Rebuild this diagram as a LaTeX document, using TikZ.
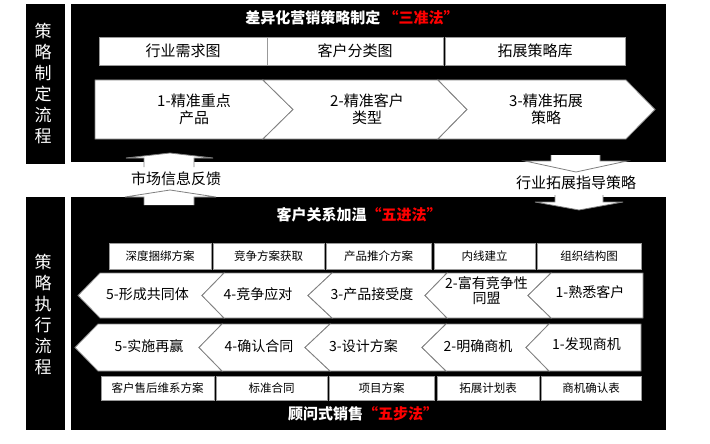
\documentclass[tikz,border=0pt]{standalone}
\usepackage{fontspec}
\setmainfont{Noto Sans CJK SC}
\begin{document}
\begin{tikzpicture}[x=1pt,y=-1pt,
  panel/.style={fill=black},
  cell/.style={draw=gray!80,fill=white,line width=.8pt,inner sep=0pt},
  chev/.style={draw=gray,fill=white,line width=.8pt},
  blockarrow/.style={draw=gray,fill=white,line width=.8pt},
  sidetext/.style={white,inner sep=0pt,align=center,font=\fontsize{17}{21}\selectfont},
  headtext/.style={white,inner sep=0pt,font=\fontsize{15}{18}\selectfont\bfseries},
  steptext/.style={inner sep=0pt,align=center,font=\fontsize{15}{17}\selectfont},
  smallstep/.style={inner sep=0pt,align=center,font=\fontsize{14}{15}\selectfont}]

\useasboundingbox (0,0) rectangle (710,444);
\fill [white] (0,0) rectangle (710,444);

% panels
\fill [panel] (26,4) rectangle (65,164);
\fill [panel] (71,4) rectangle (666,162);
\fill [panel] (26,197) rectangle (65,430);
\fill [panel] (71,197) rectangle (666,430);

\node [sidetext] (plan) at (43,83.5) {策\\略\\制\\定\\流\\程};
\node [sidetext] (exec) at (43,314) {策\\略\\执\\行\\流\\程};

% upper panel
\node [headtext] (t1) at (352,18) {差异化营销策略制定 \textcolor{red}{“三准法”}};

\node [cell,minimum width=168,minimum height=28,font=\fontsize{15}{18}\selectfont] (m1) at (183,51) {行业需求图};
\node [cell,minimum width=176,minimum height=28,font=\fontsize{15}{18}\selectfont] (m2) at (355,51) {客户分类图};
\node [cell,minimum width=180,minimum height=28,font=\fontsize{15}{18}\selectfont] (m3) at (535,51) {拓展策略库};

\draw [chev] (95,80) -- (263,80) -- (293,109.5) -- (263,139) -- (95,139) -- cycle;
\draw [chev] (263,80) -- (438,80) -- (467,109.5) -- (438,139) -- (263,139) -- (293,109.5) -- cycle;
\draw [chev] (438,80) -- (626,80) -- (655,109.5) -- (626,139) -- (438,139) -- (467,109.5) -- cycle;

\node [steptext] (p1) at (194,109.5) {1-精准重点\\产品};
\node [steptext] (p2) at (367,109.5) {2-精准客户\\类型};
\node [steptext] (p3) at (546,109.5) {3-精准拓展\\策略};

% arrows between panels
\path [blockarrow] (144,167) -- (144,158) -- (126,158) -- (170,153) -- (213,158) -- (194,158) -- (194,167);
\path [blockarrow] (144,205) -- (144,197) -- (125,197) -- (170,190) -- (216,197) -- (194,197) -- (194,205);
\node [steptext] (fb) at (176,179) {市场信息反馈};

\path [blockarrow] (551,155) -- (551,161) -- (525,161) -- (576,172) -- (627,161) -- (600,161) -- (600,155);
\path [blockarrow] (555,195) -- (555,202) -- (535,202) -- (579,210) -- (623,202) -- (603,202) -- (603,195);
\node [steptext] (gd) at (576,183) {行业拓展指导策略};

% lower panel
\node [headtext] (t2) at (359,215) {客户关系加温\textcolor{red}{“五进法”}};

\node [cell,minimum width=102,minimum height=26,font=\fontsize{11.5}{14}\selectfont] (a1) at (160,256) {深度捆绑方案};
\node [cell,minimum width=111,minimum height=26,font=\fontsize{11.5}{14}\selectfont] (a2) at (268.5,256) {竞争方案获取};
\node [cell,minimum width=105,minimum height=26,font=\fontsize{11.5}{14}\selectfont] (a3) at (378.5,256) {产品推介方案};
\node [cell,minimum width=101,minimum height=26,font=\fontsize{11.5}{14}\selectfont] (a4) at (484.5,256) {内线建立};
\node [cell,minimum width=104,minimum height=26,font=\fontsize{11.5}{14}\selectfont] (a5) at (589,256) {组织结构图};

\draw [chev] (100,273) -- (224,273) -- (202,295.5) -- (224,318) -- (100,318) -- (78,295.5) -- cycle;
\draw [chev] (224,273) -- (332,273) -- (308,295.5) -- (332,318) -- (224,318) -- (202,295.5) -- cycle;
\draw [chev] (332,273) -- (447,273) -- (425,295.5) -- (447,318) -- (332,318) -- (308,295.5) -- cycle;
\draw [chev] (447,273) -- (551,273) -- (528,295.5) -- (551,318) -- (447,318) -- (425,295.5) -- cycle;
\draw [chev] (551,273) -- (643,273) -- (643,318) -- (551,318) -- (528,295.5) -- cycle;

\node [smallstep] (w5) at (147.5,294) {5-形成共同体};
\node [smallstep] (w4) at (258,294) {4-竞争应对};
\node [smallstep] (w3) at (372,294) {3-产品接受度};
\node [smallstep] (w2) at (486.5,290.5) {2-富有竞争性\\同盟};
\node [smallstep] (w1) at (590,292) {1-熟悉客户};

\draw [chev] (98,324) -- (222,324) -- (199,347.5) -- (222,371) -- (98,371) -- (75,347.5) -- cycle;
\draw [chev] (222,324) -- (330,324) -- (305,347.5) -- (330,371) -- (222,371) -- (199,347.5) -- cycle;
\draw [chev] (330,324) -- (446,324) -- (422,347.5) -- (446,371) -- (330,371) -- (305,347.5) -- cycle;
\draw [chev] (446,324) -- (549,324) -- (526,347.5) -- (549,371) -- (446,371) -- (422,347.5) -- cycle;
\draw [chev] (549,324) -- (641,324) -- (641,371) -- (549,371) -- (526,347.5) -- cycle;

\node [smallstep] (s5) at (149,346) {5-实施再赢};
\node [smallstep] (s4) at (259,346) {4-确认合同};
\node [smallstep] (s3) at (363.5,346) {3-设计方案};
\node [smallstep] (s2) at (478,346) {2-明确商机};
\node [smallstep] (s1) at (586.5,344) {1-发现商机};

\node [cell,minimum width=113,minimum height=24,font=\fontsize{11.5}{14}\selectfont] (b1) at (157.5,388) {客户售后维系方案};
\node [cell,minimum width=111,minimum height=24,font=\fontsize{11.5}{14}\selectfont] (b2) at (271.5,388) {标准合同};
\node [cell,minimum width=105,minimum height=24,font=\fontsize{11.5}{14}\selectfont] (b3) at (381.5,388) {项目方案};
\node [cell,minimum width=102,minimum height=24,font=\fontsize{11.5}{14}\selectfont] (b4) at (488,388) {拓展计划表};
\node [cell,minimum width=100,minimum height=24,font=\fontsize{11.5}{14}\selectfont] (b5) at (591,388) {商机确认表};

\node [headtext] (t3) at (363,414) {顾问式销售\textcolor{red}{“五步法”}};

\end{tikzpicture}
\end{document}
